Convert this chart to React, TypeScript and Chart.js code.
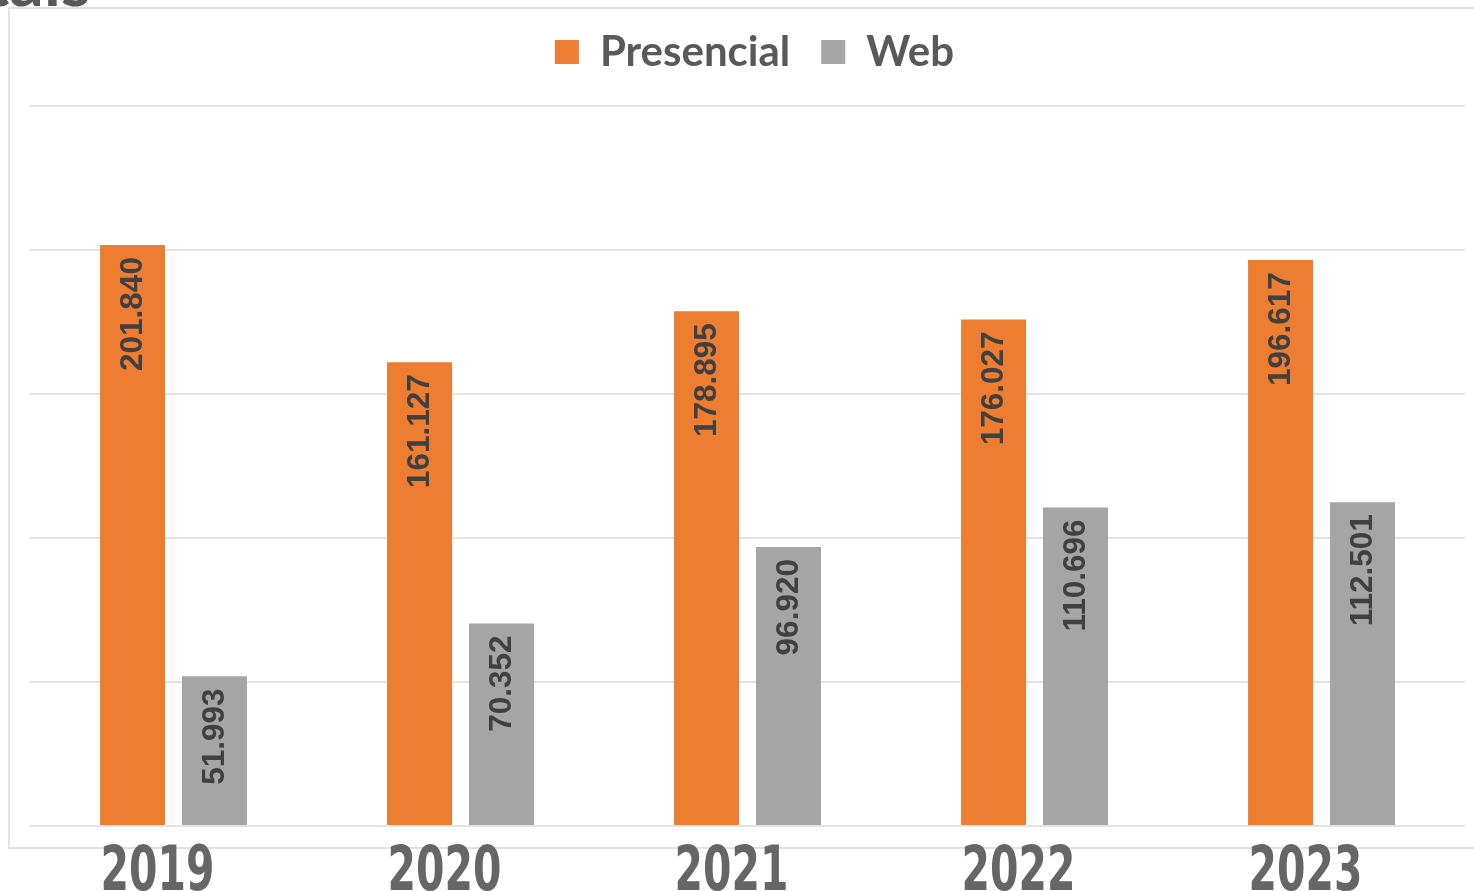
import React, { useEffect, useRef } from "react";
import { Chart, registerables } from "chart.js";

Chart.register(...registerables);

const categories = ["2019", "2020", "2021", "2022", "2023"];
const seriesNames = ["Presencial", "Web"];
const presencial = [201840, 161127, 178895, 176027, 196617];
const web = [51993, 70352, 96920, 110696, 112501];
const gridValues = [0, 50000, 100000, 150000, 200000, 250000];
const titleText = "Totais";

const fmt = (v: number) => String(v).replace(/\B(?=(\d{3})+(?!\d))/g, ".");

const framePlugin = {
  id: "frame",
  beforeDraw(chart: any) {
    const ctx = chart.ctx;
    ctx.save();
    ctx.fillStyle = "#ffffff";
    ctx.fillRect(0, 0, chart.width, chart.height);
    ctx.strokeStyle = "#d9d9d9";
    ctx.lineWidth = 1.5;
    ctx.strokeRect(9, 8, chart.width + 20, 840);
    ctx.fillStyle = "#595959";
    ctx.font = "bold 68px Lato";
    ctx.textAlign = "right";
    ctx.textBaseline = "alphabetic";
    ctx.fillText(titleText, 91, 6);
    ctx.restore();
  },
};

const labelPlugin = {
  id: "barLabels",
  afterDatasetsDraw(chart: any) {
    const ctx = chart.ctx;
    ctx.save();
    ctx.fillStyle = "#404040";
    ctx.font = "bold 31.5px 'Liberation Sans', Arial, sans-serif";
    ctx.textAlign = "right";
    ctx.textBaseline = "middle";
    chart.data.datasets.forEach((ds: any, di: number) => {
      const meta = chart.getDatasetMeta(di);
      meta.data.forEach((el: any, i: number) => {
        ctx.save();
        ctx.translate(el.x + 1, el.y + 12);
        ctx.rotate(-Math.PI / 2);
        ctx.fillText(fmt(ds.data[i]), 0, 0);
        ctx.restore();
      });
    });
    ctx.restore();
  },
  afterDraw(chart: any) {
    const ctx = chart.ctx;
    const xs = chart.scales.x;
    ctx.save();
    ctx.fillStyle = "#666666";
    ctx.font = "bold 62px 'DejaVu Sans', sans-serif";
    ctx.textAlign = "center";
    ctx.textBaseline = "alphabetic";
    chart.data.labels.forEach((lab: string, i: number) => {
      const px = xs.getPixelForTick(i) - 16;
      ctx.save();
      ctx.translate(px, 890);
      ctx.scale(0.66, 1);
      ctx.fillText(lab, 0, 0);
      ctx.restore();
    });
    ctx.restore();
  },
};

export default function App() {
  const ref = useRef<HTMLCanvasElement>(null);
  useEffect(() => {
    document.body.style.margin = "0";
    const chart = new Chart(ref.current!, {
      type: "bar",
      data: {
        labels: categories,
        datasets: [
          { label: seriesNames[0], data: presencial, backgroundColor: "#ED7D31" },
          { label: seriesNames[1], data: web, backgroundColor: "#A5A5A5" },
        ],
      },
      options: {
        animation: false,
        responsive: true,
        maintainAspectRatio: false,
        layout: { padding: { left: 30, right: 11, top: 0, bottom: 65 } },
        datasets: { bar: { categoryPercentage: 0.571, barPercentage: 0.793 } },
        plugins: {
          tooltip: { enabled: false },
          legend: {
            position: "top",
            labels: {
              boxWidth: 24,
              boxHeight: 24,
              padding: 31,
              color: "#595959",
              font: { family: "Lato", size: 42, weight: "bold" },
            },
          },
        },
        scales: {
          x: {
            grid: { display: false, drawTicks: false },
            border: { display: false },
            ticks: { display: false },
          },
          y: {
            position: "right",
            min: 0,
            max: 258160,
            afterFit: (axis: any) => {
              axis.width = 14;
            },
            afterBuildTicks: (axis: any) => {
              axis.ticks = gridValues.map((v) => ({ value: v }));
            },
            ticks: { display: false },
            border: { display: false },
            grid: { drawTicks: false, lineWidth: 2, color: "#e3e3e3" },
          },
        },
      },
      plugins: [framePlugin, labelPlugin],
    } as any);
    return () => chart.destroy();
  }, []);
  return (
    <div
      style={{
        position: "fixed",
        left: 0,
        top: 0,
        width: 1474,
        height: 891,
        overflow: "hidden",
        background: "#fff",
      }}
    >
      <div style={{ position: "relative", width: 1490, height: 891 }}>
        <canvas ref={ref} />
      </div>
    </div>
  );
}
